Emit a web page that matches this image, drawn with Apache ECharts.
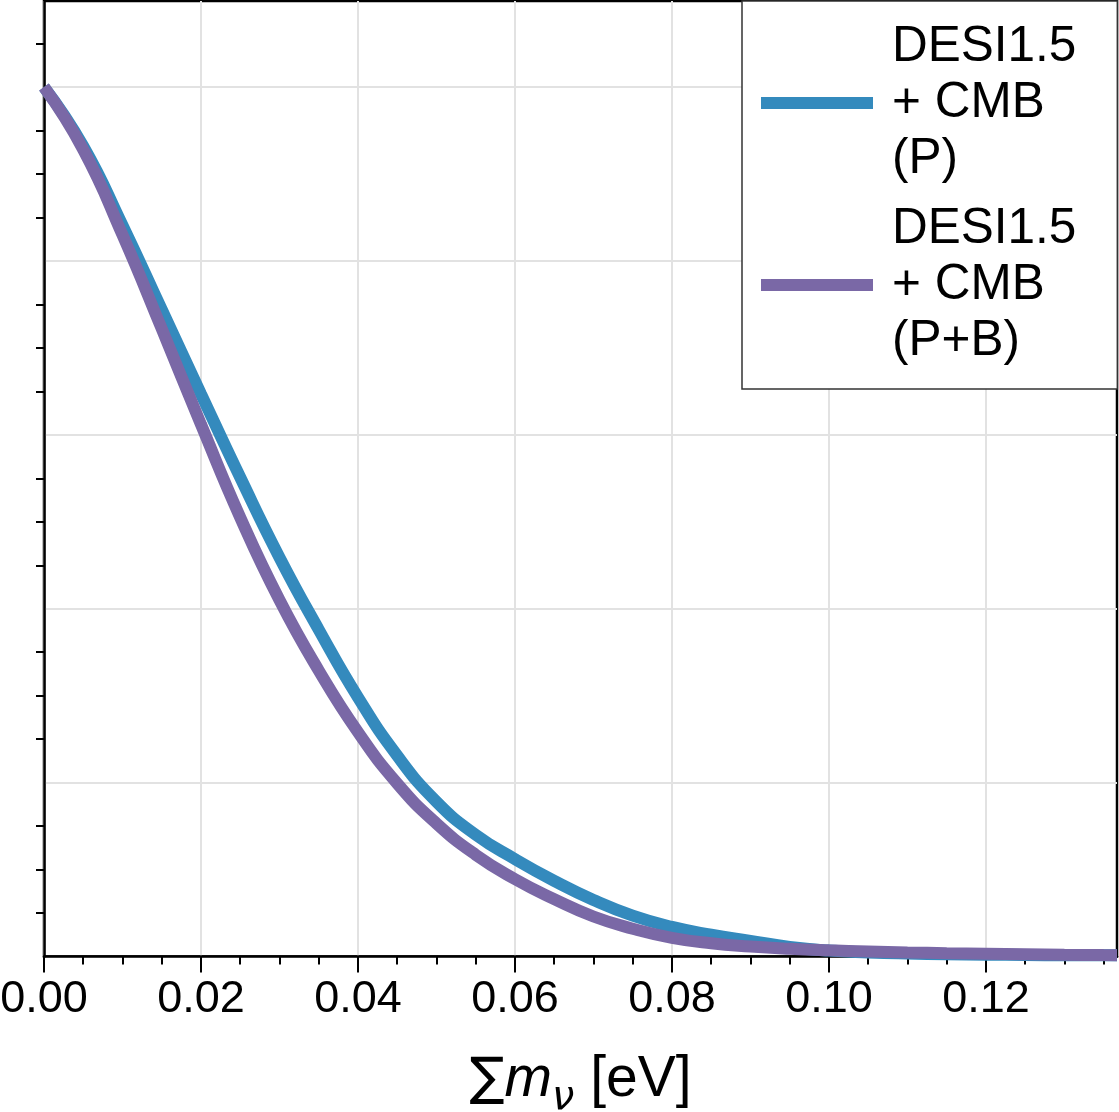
<!DOCTYPE html>
<html>
<head>
<meta charset="utf-8">
<script src="https://cdn.jsdelivr.net/npm/echarts@6/dist/echarts.min.js"></script>
<style>
html,body{margin:0;padding:0;background:#fff;}
#chart{width:1119px;height:1112px;}
</style>
</head>
<body>
<div id="chart"></div>
<script>
// ---- data ----
const mnu = [0, 0.005, 0.01, 0.015, 0.02, 0.025, 0.03, 0.035, 0.04, 0.045, 0.05, 0.055, 0.06, 0.065, 0.07,
  0.075, 0.08, 0.085, 0.09, 0.095, 0.10, 0.105, 0.11, 0.115, 0.12, 0.125, 0.13, 0.135, 0.1367];
const seriesP = [1.000, 0.932, 0.841, 0.744, 0.647, 0.551, 0.459, 0.376, 0.298, 0.231, 0.178, 0.140, 0.112, 0.087, 0.065,
  0.047, 0.034, 0.025, 0.018, 0.011, 0.0068, 0.0047, 0.0034, 0.0026, 0.0021, 0.0017, 0.0015, 0.0013, 0.0013];
const seriesPB = [1.000, 0.928, 0.830, 0.722, 0.612, 0.505, 0.410, 0.329, 0.258, 0.199, 0.153, 0.117, 0.089, 0.066, 0.046,
  0.032, 0.0215, 0.0152, 0.0115, 0.0089, 0.0071, 0.0058, 0.0047, 0.0038, 0.0031, 0.0025, 0.0020, 0.0016, 0.0015];
const seriesNames = ['DESI1.5\n+ CMB\n(P)', 'DESI1.5\n+ CMB\n(P+B)'];
const xMajorTicks = [0, 0.02, 0.04, 0.06, 0.08, 0.10, 0.12];
const xTickLabels = ['0.00', '0.02', '0.04', '0.06', '0.08', '0.10', '0.12'];
const xMinorTicks = [0.005, 0.01, 0.015, 0.025, 0.03, 0.035, 0.045, 0.05, 0.055, 0.065, 0.07, 0.075,
  0.085, 0.09, 0.095, 0.105, 0.11, 0.115, 0.125, 0.13, 0.135];
const yGridValues = [0, 0.2, 0.4, 0.6, 0.8, 1.0];
const yMinorTicks = [0.05, 0.1, 0.15, 0.25, 0.3, 0.35, 0.45, 0.5, 0.55, 0.65, 0.7, 0.75, 0.85, 0.9, 0.95, 1.05];
const xRange = [0, 0.1367];
const yRange = [0, 1.099];

const colors = ['#348ABD', '#7A68A6'];
const FONT = 'Liberation Sans';

const chart = echarts.init(document.getElementById('chart'), null, {renderer: 'canvas'});

function pairs(xs, ys) { return xs.map((x, i) => [x, ys[i]]); }

const option = {
  backgroundColor: '#fff',
  animation: false,
  grid: {left: 44, top: 1, width: 1073, height: 955.5, show: true, borderColor: '#000', borderWidth: 2.5,
    backgroundColor: 'transparent', containLabel: false, outerBoundsMode: 'none'},
  xAxis: [
    {
      type: 'value', min: xRange[0], max: xRange[1], interval: 0.02,
      axisLine: {show: true, onZero: false, lineStyle: {color: '#000', width: 2.5}},
      axisTick: {show: true, inside: false, length: 16, lineStyle: {color: '#000', width: 2}, customValues: xMajorTicks},
      axisLabel: {show: true, customValues: xMajorTicks, margin: 21, fontFamily: FONT, fontSize: 45, color: '#000',
        formatter: v => { const i = xMajorTicks.findIndex(t => Math.abs(t - v) < 1e-9); return i >= 0 ? xTickLabels[i] : ''; }},
      splitLine: {show: true, lineStyle: {color: '#e2e2e2', width: 2}},
      name: '{s|∑}{m|m}{n|ν}{b| [eV]}',
      nameLocation: 'middle', nameGap: 86,
      nameTextStyle: {
        color: '#000', fontFamily: FONT, fontSize: 57,
        rich: {
          s: {fontFamily: 'DejaVu Sans', fontSize: 52, color: '#000'},
          m: {fontFamily: FONT, fontStyle: 'italic', fontSize: 57, color: '#000'},
          n: {fontFamily: 'DejaVu Sans', fontStyle: 'italic', fontSize: 40, color: '#000', padding: [36, 0, 0, 0]},
          b: {fontFamily: FONT, fontSize: 57, color: '#000'}
        }
      }
    },
    {
      type: 'value', position: 'bottom', offset: 0, min: xRange[0], max: xRange[1], interval: 0.02,
      axisLine: {show: false},
      axisTick: {show: true, inside: false, length: 8, lineStyle: {color: '#000', width: 2}, customValues: xMinorTicks},
      axisLabel: {show: false},
      splitLine: {show: false}
    }
  ],
  yAxis: [
    {
      type: 'value', min: yRange[0], max: yRange[1], interval: 0.2,
      axisLine: {show: true, onZero: false, lineStyle: {color: '#000', width: 2.5}},
      axisTick: {show: false, customValues: yGridValues},
      axisLabel: {show: false},
      splitLine: {show: true, lineStyle: {color: '#e2e2e2', width: 2}}
    },
    {
      type: 'value', position: 'left', offset: 0, min: yRange[0], max: yRange[1], interval: 0.2,
      axisLine: {show: false},
      axisTick: {show: true, inside: false, length: 8, lineStyle: {color: '#000', width: 2}, customValues: yMinorTicks},
      axisLabel: {show: false},
      splitLine: {show: false}
    }
  ],
  legend: {
    orient: 'vertical', left: 742, top: 1,
    padding: [18, 41, 20, 19], itemGap: 14,
    itemWidth: 112, itemHeight: 12, icon: 'rect',
    backgroundColor: '#fff', borderColor: '#333', borderWidth: 1.5, borderRadius: 0,
    textStyle: {fontFamily: FONT, fontSize: 49.5, lineHeight: 56, color: '#000', padding: [0, 0, 0, 14]},
    data: seriesNames
  },
  series: [
    {
      name: seriesNames[0], type: 'line', data: pairs(mnu, seriesP), xAxisIndex: 0, yAxisIndex: 0,
      showSymbol: false, symbol: 'none', smooth: 0.5, clip: true,
      lineStyle: {color: colors[0], width: 12, cap: 'butt'}, itemStyle: {color: colors[0]}, z: 2
    },
    {
      name: seriesNames[1], type: 'line', data: pairs(mnu, seriesPB), xAxisIndex: 0, yAxisIndex: 0,
      showSymbol: false, symbol: 'none', smooth: 0.5, clip: true,
      lineStyle: {color: colors[1], width: 12, cap: 'butt'}, itemStyle: {color: colors[1]}, z: 3
    }
  ]
};
chart.setOption(option);
</script>
</body>
</html>
